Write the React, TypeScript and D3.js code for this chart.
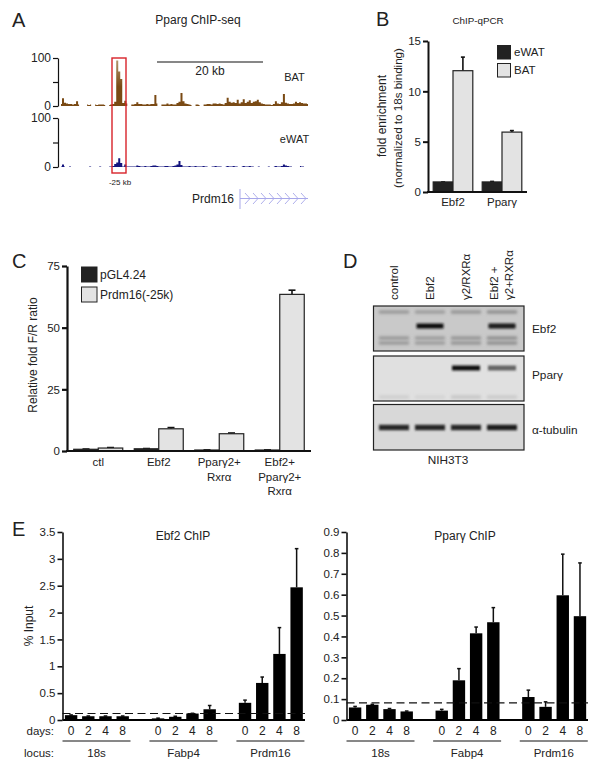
import { useEffect, useRef } from "react";
import * as d3 from "d3";

const FONT = "'Liberation Sans', Arial, sans-serif";
const TEXT = "#222";

// panel A, ChIP-seq signal in 2 px bins
const batSignal = [
  4, 16, 7, 5, 4, 4, 3, 4, 10, 3, 0, 2, 0, 3, 2, 3, 0, 3, 2, 3, 3, 3, 2, 0, 2, 3, 4, 9, 95, 72, 56, 6, 11, 5, 0, 3, 3, 4, 8, 4,
  4, 3, 3, 4, 3, 4, 4, 23, 5, 0, 3, 3, 3, 5, 3, 4, 3, 3, 6, 9, 27, 10, 5, 4, 3, 2, 0, 3, 3, 2, 0, 3, 3, 4, 4, 3, 5, 5, 4, 5,
  4, 3, 6, 17, 9, 7, 8, 6, 13, 5, 8, 14, 6, 9, 12, 6, 9, 10, 13, 8, 5, 4, 3, 3, 3, 2, 4, 10, 5, 4, 8, 25, 7, 5, 4, 4, 5, 9, 6, 8,
  6, 5, 5, 4,
];
const ewatSignal = [
  1, 5, 1, 0, 1, 1, 0, 1, 0, 0, 1, 0, 1, 0, 1, 1, 0, 1, 0, 1, 1, 0, 1, 0, 1, 1, 2, 6, 9, 18, 8, 1, 5, 1, 1, 1, 1, 1, 3, 2,
  1, 1, 2, 1, 1, 2, 3, 3, 2, 1, 1, 1, 2, 2, 1, 1, 2, 3, 5, 12, 4, 1, 1, 1, 2, 1, 1, 2, 1, 1, 1, 2, 1, 1, 0, 1, 1, 2, 1, 1,
  1, 0, 1, 2, 1, 1, 2, 1, 1, 0, 1, 2, 1, 1, 2, 1, 1, 0, 1, 1, 0, 1, 0, 1, 1, 0, 1, 2, 1, 1, 2, 5, 3, 2, 1, 1, 0, 1, 0, 2,
  1, 1, 0, 1,
];
const trackTicks = [0, 50, 100];

// panel B
const qpcrTargets = ["Ebf2", "Pparγ"];
const qpcrEwat = [1, 1];
const qpcrBat = [12.05, 5.95];
const qpcrEwatErr = [0, 0.05];
const qpcrBatErr = [1.35, 0.15];
const qpcrTicks = [0, 5, 10, 15];

// panel C
const reporterGroups = ["ctl", "Ebf2", "Pparγ2+|Rxrα", "Ebf2+|Pparγ2+|Rxrα"];
const reporterEmpty = [0.7, 0.9, 0.4, 0.4];
const reporterPrdm16 = [1.2, 9, 7, 63.5];
const reporterEmptyErr = [0.1, 0.1, 0.05, 0.05];
const reporterPrdm16Err = [0.2, 0.5, 0.3, 1.7];
const reporterTicks = [0, 25, 50, 75];

// panel D, band strength per lane
const blotLanes = ["control", "Ebf2", "γ2/RXRα", "Ebf2 +|γ2+RXRα"];
const ebf2Band = [0, 1, 0, 0.95];
const ebf2Faint = [0.3, 0.28, 0.32, 0.36];
const ppargBand = [0, 0, 1, 0.6];
const ppargFaint = [0.1, 0.07, 0.14, 0.12];
const tubulinBand = [0.9, 0.9, 0.9, 0.95];

// panel E
const loci = ["18s", "Fabp4", "Prdm16"];
const days = ["0", "2", "4", "8"];
const ebf2Chip = [0.09, 0.07, 0.07, 0.07, 0.03, 0.06, 0.12, 0.2, 0.32, 0.69, 1.23, 2.47];
const ebf2ChipErr = [0.005, 0.005, 0.005, 0.005, 0.005, 0.01, 0.005, 0.07, 0.05, 0.11, 0.49, 0.72];
const ebf2Ticks = [0, 0.5, 1, 1.5, 2, 2.5, 3, 3.5];
const ppargChip = [0.06, 0.073, 0.052, 0.041, 0.045, 0.19, 0.415, 0.468, 0.11, 0.063, 0.597, 0.497];
const ppargChipErr = [0.005, 0.002, 0.003, 0.002, 0.006, 0.056, 0.03, 0.07, 0.033, 0.024, 0.197, 0.255];
const ppargTicks = [0, 0.1, 0.2, 0.3, 0.4, 0.5, 0.6, 0.7, 0.8, 0.9];

type Sel = d3.Selection<SVGGElement, unknown, null, undefined>;

function label(g: Sel, x: number, y: number, str: string, size: number, anchor = "middle", rotate = false) {
  return g
    .append("text")
    .attr("transform", `translate(${x},${y})${rotate ? " rotate(-90)" : ""}`)
    .attr("text-anchor", anchor)
    .attr("font-family", FONT)
    .attr("font-size", size)
    .attr("fill", TEXT)
    .text(str);
}

// left axis with thick domain, ticks pointing out
function yAxis(g: Sel, y: d3.ScaleLinear<number, number>, x: number, ticks: number[], size: number, width = 2) {
  const axis = g
    .append("g")
    .attr("transform", `translate(${x},0)`)
    .call(d3.axisLeft(y).tickValues(ticks).tickSize(5).tickSizeOuter(0).tickPadding(2).tickFormat((d) => String(d)));
  axis.select(".domain").attr("stroke", "#111").attr("stroke-width", width);
  axis.selectAll(".tick line").attr("stroke", "#111").attr("stroke-width", width);
  axis.selectAll("text").attr("font-family", FONT).attr("font-size", size).attr("fill", TEXT);
}

function errorBar(g: Sel, x: number, y0: number, y1: number, cap: number, width = 1.6) {
  g.append("line").attr("x1", x).attr("x2", x).attr("y1", y0).attr("y2", y1).attr("stroke", "#111").attr("stroke-width", width);
  g.append("line").attr("x1", x - cap).attr("x2", x + cap).attr("y1", y1).attr("y2", y1).attr("stroke", "#111").attr("stroke-width", width);
}

function drawPanelA(g: Sel) {
  const x = d3.scaleLinear().domain([0, batSignal.length - 1]).range([61, 308]);
  const batY = d3.scaleLinear().domain([0, 100]).range([106, 58]);
  const ewatY = d3.scaleLinear().domain([0, 100]).range([167, 118]);

  // BAT peak fades to tan at the top
  const grad = g.append("defs").append("linearGradient").attr("id", "batFill").attr("gradientUnits", "userSpaceOnUse").attr("x1", 0).attr("x2", 0).attr("y1", batY(100)).attr("y2", batY(40));
  grad.append("stop").attr("offset", 0).attr("stop-color", "#b59a74");
  grad.append("stop").attr("offset", 1).attr("stop-color", "#7a4a14");

  const tracks = [
    { name: "BAT", values: batSignal, fill: "url(#batFill)", color: "#7d4d16", y: batY, lx: 294.5, ly: 81 },
    { name: "eWAT", values: ewatSignal, fill: "#14147e", color: "#14147e", y: ewatY, lx: 294.5, ly: 143 },
  ];
  tracks.forEach((t) => {
    const area = d3
      .area<number>()
      .defined((d) => d > 0)
      .x((_, i) => x(i))
      .y0(t.y(0))
      .y1((d) => t.y(d))
      .curve(d3.curveStep);
    g.append("path").attr("d", area(t.values)).attr("fill", t.fill);
    yAxis(g, t.y, 58, trackTicks, 12, 1.2);
    g.selectAll(".tick text").filter((d) => d === 50).remove();
    label(g, t.lx, t.ly, t.name, 11);
  });

  g.append("rect").attr("x", 112).attr("y", 58).attr("width", 14).attr("height", 115).attr("fill", "none").attr("stroke", "#d8232a").attr("stroke-width", 1.4);
  label(g, 120, 185, "-25 kb", 8);
  g.append("line").attr("x1", 157).attr("x2", 263).attr("y1", 62).attr("y2", 62).attr("stroke", "#111").attr("stroke-width", 1.2);
  label(g, 210, 74.5, "20 kb", 12);
  label(g, 198, 24, "Pparg ChIP-seq", 12);

  // gene model
  label(g, 234, 203, "Prdm16", 12, "end");
  const gene = "#a7a7ea";
  g.append("line").attr("x1", 240).attr("x2", 240).attr("y1", 189).attr("y2", 209).attr("stroke", gene).attr("stroke-width", 1);
  g.append("line").attr("x1", 240).attr("x2", 308).attr("y1", 198.5).attr("y2", 198.5).attr("stroke", gene).attr("stroke-width", 1);
  const chev = d3.line();
  d3.range(248, 308, 8).forEach((cx) => {
    g.append("path").attr("d", chev([[cx - 3, 193], [cx + 2, 198.5], [cx - 3, 204]])).attr("fill", "none").attr("stroke", gene).attr("stroke-width", 0.9);
  });
}

function groupedBars(
  g: Sel,
  cfg: {
    groups: string[];
    a: number[];
    b: number[];
    aErr: number[];
    bErr: number[];
    y: d3.ScaleLinear<number, number>;
    band: d3.ScaleBand<string>;
    barWidth: number;
    cap: number;
    baseline: [number, number];
  },
) {
  const { groups, a, b, aErr, bErr, y, band, barWidth, cap, baseline } = cfg;
  groups.forEach((name, i) => {
    const cx = (band(name) as number) + band.bandwidth() / 2;
    errorBar(g, cx - barWidth / 2, y(a[i]), y(a[i] + aErr[i]), cap);
    errorBar(g, cx + barWidth / 2, y(b[i]), y(b[i] + bErr[i]), cap);
    g.append("rect").attr("x", cx - barWidth).attr("y", y(a[i])).attr("width", barWidth).attr("height", y(0) - y(a[i])).attr("fill", "#222").attr("stroke", "#222").attr("stroke-width", 1.2);
    g.append("rect").attr("x", cx).attr("y", y(b[i])).attr("width", barWidth).attr("height", y(0) - y(b[i])).attr("fill", "#e3e3e3").attr("stroke", "#222").attr("stroke-width", 1.2);
  });
  g.append("line").attr("x1", baseline[0]).attr("x2", baseline[1]).attr("y1", y(0)).attr("y2", y(0)).attr("stroke", "#111").attr("stroke-width", 2);
}

function legend(g: Sel, x: number, ys: number[], names: string[], w: number, h: number, tx: number, size: number) {
  names.forEach((name, i) => {
    g.append("rect").attr("x", x).attr("y", ys[i]).attr("width", w).attr("height", h).attr("fill", i === 0 ? "#222" : "#e3e3e3").attr("stroke", "#222").attr("stroke-width", 1);
    label(g, tx, ys[i] + h / 2 + size * 0.36, name, size, "start");
  });
}

function drawPanelB(g: Sel) {
  const y = d3.scaleLinear().domain([0, 15]).range([192, 41]);
  const band = d3.scaleBand<string>().domain(qpcrTargets).range([428.5, 526.5]);
  groupedBars(g, { groups: qpcrTargets, a: qpcrEwat, b: qpcrBat, aErr: qpcrEwatErr, bErr: qpcrBatErr, y, band, barWidth: 19.8, cap: 2, baseline: [427, 527] });
  yAxis(g, y, 428, qpcrTicks, 11.5);
  qpcrTargets.forEach((t) => label(g, (band(t) as number) + band.bandwidth() / 2, 206, t, 11.5));
  legend(g, 497.5, [45.5, 63.5], ["eWAT", "BAT"], 13, 13.5, 514, 11.5);
  label(g, 478, 24, "ChIP-qPCR", 9.8);
  label(g, 386, 116, "fold enrichment", 12, "middle", true);
  label(g, 402, 118, "(normalized to 18s binding)", 11.6, "middle", true);
}

function drawPanelC(g: Sel) {
  const y = d3.scaleLinear().domain([0, 75]).range([451, 266]);
  const band = d3.scaleBand<string>().domain(reporterGroups).range([68, 310]);
  groupedBars(g, { groups: reporterGroups, a: reporterEmpty, b: reporterPrdm16, aErr: reporterEmptyErr, bErr: reporterPrdm16Err, y, band, barWidth: 24.5, cap: 3.5, baseline: [66, 311] });
  yAxis(g, y, 67, reporterTicks, 11.5, 2.2);
  reporterGroups.forEach((name) => {
    const cx = (band(name) as number) + band.bandwidth() / 2;
    name.split("|").forEach((part, i) => label(g, cx, 466 + i * 14.5, part, 11.5));
  });
  legend(g, 81.5, [267, 287], ["pGL4.24", "Prdm16(-25k)"], 15.5, 15, 100, 12);
  label(g, 37, 355, "Relative fold F/R ratio", 12, "middle", true);
}

function drawPanelD(g: Sel) {
  const defs = g.append("defs");
  const blur = (id: string, sd: number) => defs.append("filter").attr("id", id).attr("x", "-20%").attr("y", "-150%").attr("width", "140%").attr("height", "400%").append("feGaussianBlur").attr("stdDeviation", sd);
  blur("soft", 0.9);
  blur("softer", 1.4);
  const lane = d3.scalePoint<string>().domain(blotLanes).range([394, 502]);

  const blots = [
    { top: 306, h: 45, bg: "#c9c9c9", main: ebf2Band, mainY: 20, faint: ebf2Faint, faintY: [6, 32, 37], bh: 5, bw: 27, name: "Ebf2", ly: 333 },
    { top: 356, h: 45, bg: "#e0e0e0", main: ppargBand, mainY: 12, faint: ppargFaint, faintY: [41], bh: 5, bw: 28, name: "Pparγ", ly: 379 },
    { top: 404.5, h: 45.5, bg: "#d8d8d8", main: tubulinBand, mainY: 23, faint: [0, 0, 0, 0], faintY: [], bh: 5.5, bw: 30, name: "α-tubulin", ly: 433.5 },
  ];
  blots.forEach((b) => {
    const shade = d3.scaleLinear<string>().domain([0, 1]).range([b.bg, "#111"]);
    g.append("rect").attr("x", 373.5).attr("y", b.top).attr("width", 150.5).attr("height", b.h).attr("fill", b.bg);
    blotLanes.forEach((l, i) => {
      const cx = lane(l) as number;
      b.faintY.forEach((fy) => {
        g.append("rect").attr("x", cx - 15).attr("y", b.top + fy - 1.5).attr("width", 30).attr("height", 3).attr("fill", shade(b.faint[i])).attr("filter", "url(#softer)");
      });
      if (b.main[i] > 0) {
        g.append("rect").attr("x", cx - b.bw / 2).attr("y", b.top + b.mainY - b.bh / 2).attr("width", b.bw).attr("height", b.bh).attr("fill", shade(b.main[i])).attr("filter", "url(#soft)");
      }
    });
    g.append("rect").attr("x", 373.5).attr("y", b.top).attr("width", 150.5).attr("height", b.h).attr("fill", "none").attr("stroke", "#222").attr("stroke-width", 1.2);
    label(g, 532, b.ly, b.name, 11.8, "start");
  });

  blotLanes.forEach((l) => {
    const cx = lane(l) as number;
    const parts = l.split("|");
    parts.forEach((part, i) => {
      const off = parts.length === 1 ? 3.5 : i === 0 ? -4 : 11;
      label(g, cx + off, 300, part, 11.5, "start", true);
    });
  });
  label(g, 448, 464, "NIH3T3", 11.8);
}

function drawChip(g: Sel, values: number[], errs: number[], ticks: number[], dash: number, xRange: [number, number]) {
  const y = d3.scaleLinear().domain([0, ticks[ticks.length - 1]]).range([720, 532]);
  const group = d3.scaleBand<string>().domain(loci).range([xRange[0], xRange[1] + 18.4]);
  const inner = d3.scaleBand<string>().domain(days).range([0, 68.8]);
  const barW = 12.4;
  loci.forEach((locus, li) => {
    const gx = group(locus) as number;
    days.forEach((day, di) => {
      const cx = gx + (inner(day) as number) + inner.bandwidth() / 2;
      const v = values[li * 4 + di];
      const e = errs[li * 4 + di];
      errorBar(g, cx, y(v), y(v + e), 1.8, 1.5);
      g.append("rect").attr("x", cx - barW / 2).attr("y", y(v)).attr("width", barW).attr("height", y(0) - y(v)).attr("fill", "#000");
      label(g, cx, 735, day, 12);
    });
    g.append("line").attr("x1", gx).attr("x2", gx + 68).attr("y1", 741).attr("y2", 741).attr("stroke", "#111").attr("stroke-width", 1);
    label(g, gx + 34, 756.5, locus, 11.5);
  });
  g.append("line").attr("x1", xRange[0]).attr("x2", xRange[1]).attr("y1", y(0)).attr("y2", y(0)).attr("stroke", "#000").attr("stroke-width", 2);
  g.append("line").attr("x1", xRange[0]).attr("x2", xRange[1]).attr("y1", y(dash)).attr("y2", y(dash)).attr("stroke", "#111").attr("stroke-width", 1.1).attr("stroke-dasharray", "8,4.5");
  yAxis(g, y, xRange[0], ticks, 11.5, 1.6);
}

function drawPanelE(g: Sel) {
  drawChip(g, ebf2Chip, ebf2ChipErr, ebf2Ticks, 0.12, [62.5, 305]);
  drawChip(g, ppargChip, ppargChipErr, ppargTicks, 0.082, [346.5, 588]);
  label(g, 183, 540, "Ebf2 ChIP", 12);
  label(g, 465, 540, "Pparγ ChIP", 12);
  label(g, 33, 626, "% Input", 12, "middle", true);
  label(g, 54, 735, "days:", 11.5, "end");
  label(g, 54, 756.5, "locus:", 11.5, "end");
}

export default function App() {
  const svgRef = useRef<SVGSVGElement | null>(null);

  useEffect(() => {
    if (!svgRef.current) return;
    const svg = d3.select(svgRef.current);
    svg.selectAll("*").remove();

    const root = svg.append("g") as unknown as Sel;
    drawPanelA(root.append("g") as unknown as Sel);
    drawPanelB(root.append("g") as unknown as Sel);
    drawPanelC(root.append("g") as unknown as Sel);
    drawPanelD(root.append("g") as unknown as Sel);
    drawPanelE(root.append("g") as unknown as Sel);

    label(root, 12, 27, "A", 20, "start");
    label(root, 376, 26, "B", 20, "start");
    label(root, 12, 268, "C", 20, "start");
    label(root, 343, 268, "D", 20, "start");
    label(root, 12, 536, "E", 20, "start");
  }, []);

  return <svg ref={svgRef} width={602} height={770} style={{ position: "absolute", left: 0, top: 0, background: "#fff" }} />;
}
